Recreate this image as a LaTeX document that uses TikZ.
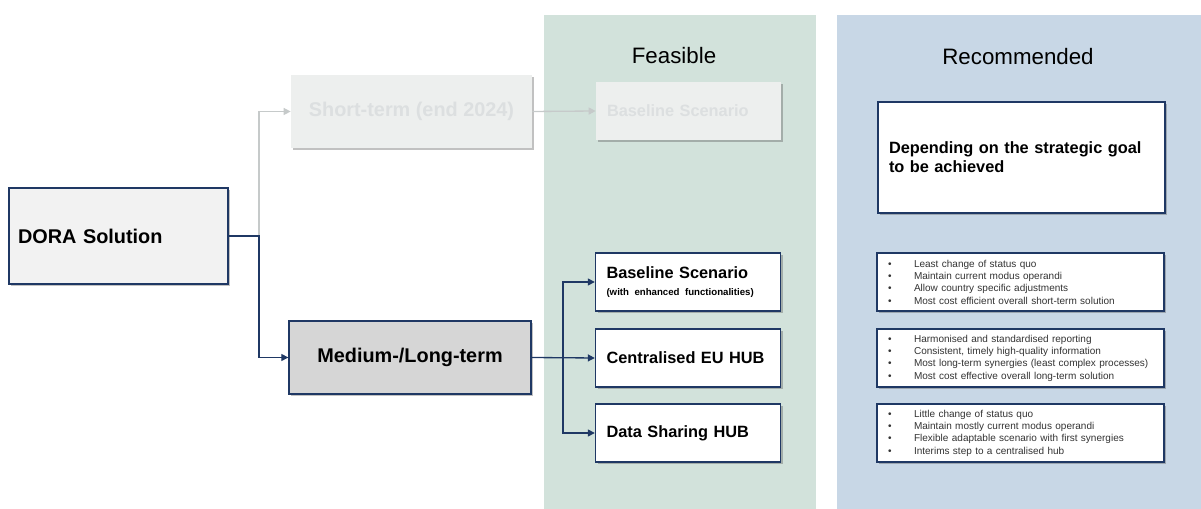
\documentclass[tikz,border=0pt]{standalone}
\usepackage{fontspec}
\setmainfont{Liberation Sans}
\usetikzlibrary{arrows.meta,shadows}

\definecolor{navy}{HTML}{1F3864}
\definecolor{feasgreen}{HTML}{D2E2DB}
\definecolor{recblue}{HTML}{C8D7E6}
\definecolor{ghostfill}{HTML}{EDEFEE}
\definecolor{ghosttext}{HTML}{DCDFE0}
\definecolor{ghostline}{HTML}{C6CACA}

\newcommand{\recitem}[1]{\makebox[14.8pt][l]{\textbullet}#1}

\begin{document}
\begin{tikzpicture}
	[
		x=0.02cm, y=-0.02cm,
		shade/.style = {drop shadow={shadow xshift=1.3pt, shadow yshift=-1.3pt, opacity=0.35, fill=black!70}},
		box/.style = {rectangle, draw=navy, line width=0.8pt, fill=white, shade},
		ghost/.style = {rectangle, fill=ghostfill, text=ghosttext, shade},
		big/.style = {font=\fontsize{11.3}{13.5}\selectfont\bfseries},
		mid/.style = {font=\fontsize{9.3}{11}\selectfont\bfseries},
		head/.style = {font=\fontsize{12.7}{15}\selectfont},
		option/.style = {box, mid, minimum height=1.16cm, text width=3.26cm, inner xsep=0.22cm, align=left},
		reason/.style = {box, minimum height=1.16cm, text width=5.30cm, inner xsep=0.22cm, align=left,
			font=\fontsize{5.7}{7}\selectfont, text=black!80},
		link/.style = {draw=navy, line width=0.75pt, -{Triangle[length=4pt,width=4pt]}},
		ghostlink/.style = {draw=ghostline, line width=0.75pt, -{Triangle[length=4pt,width=4pt]}},
	]

	\useasboundingbox (0,0) rectangle (1201,509);

	% panels
	\fill[feasgreen] (544,15) rectangle (816,509);
	\fill[recblue] (837,15) rectangle (1201,509);
	\node[head] (feasible) at (674,56) {Feasible};
	\node[head] (recommended) at (1018,57) {Recommended};

	% left side
	\node[box, big, fill=black!5, minimum height=1.92cm, text width=4.02cm, inner xsep=0.18cm, align=left] (dora) at (118.5,236) {DORA Solution};
	\node[ghost, big, minimum width=4.82cm, minimum height=1.46cm] (short) at (411.5,111.5) {Short-term (end 2024)};
	\node[box, big, fill=black!16, minimum width=4.84cm, minimum height=1.46cm] (medium) at (410,357.5) {Medium-/Long-term};

	% feasible options
	\node[ghost, mid, minimum height=1.16cm, text width=3.26cm, inner xsep=0.22cm, align=left] (ghostbase) at (688.5,111) {Baseline Scenario};
	\node[option] (base) at (688,282) {Baseline Scenario\\[-1pt]\mbox{\fontsize{5.5}{6.6}\selectfont(with enhanced functionalities)}};
	\node[option] (central) at (688,358) {Centralised EU HUB};
	\node[option] (datahub) at (688,433) {Data Sharing HUB};

	% recommended
	\node[box, mid, minimum height=2.22cm, text width=5.30cm, inner xsep=0.22cm, align=left] (depend) at (1021.5,157.5) {Depending on the strategic goal\\to be achieved};
	\node[reason] (recbase) at (1020.5,282) {\recitem{Least change of status quo}\\\recitem{Maintain current modus operandi}\\\recitem{Allow country specific adjustments}\\\recitem{Most cost efficient overall short-term solution}};
	\node[reason] (reccentral) at (1020.5,358) {\recitem{Harmonised and standardised reporting}\\\recitem{Consistent, timely high-quality information}\\\recitem{Most long-term synergies (least complex processes)}\\\recitem{Most cost effective overall long-term solution}};
	\node[reason] (recdata) at (1020.5,433) {\recitem{Little change of status quo}\\\recitem{Maintain mostly current modus operandi}\\\recitem{Flexible adaptable scenario with first synergies}\\\recitem{Interims step to a centralised hub}};

	% connectors
	\coordinate (split) at (259,236);
	\coordinate (fork) at (563,358);
	\draw[ghostlink] (split) |- (short.west);
	\draw[ghostlink] (short.east) -- (ghostbase.west);
	\draw[link] (dora.east) -- (split) |- (medium.west);
	\draw[link] (medium.east) -- (central.west);

	\foreach \to in {base,datahub}
	\draw[link] (fork) |- (\to.west);

\end{tikzpicture}
\end{document}
